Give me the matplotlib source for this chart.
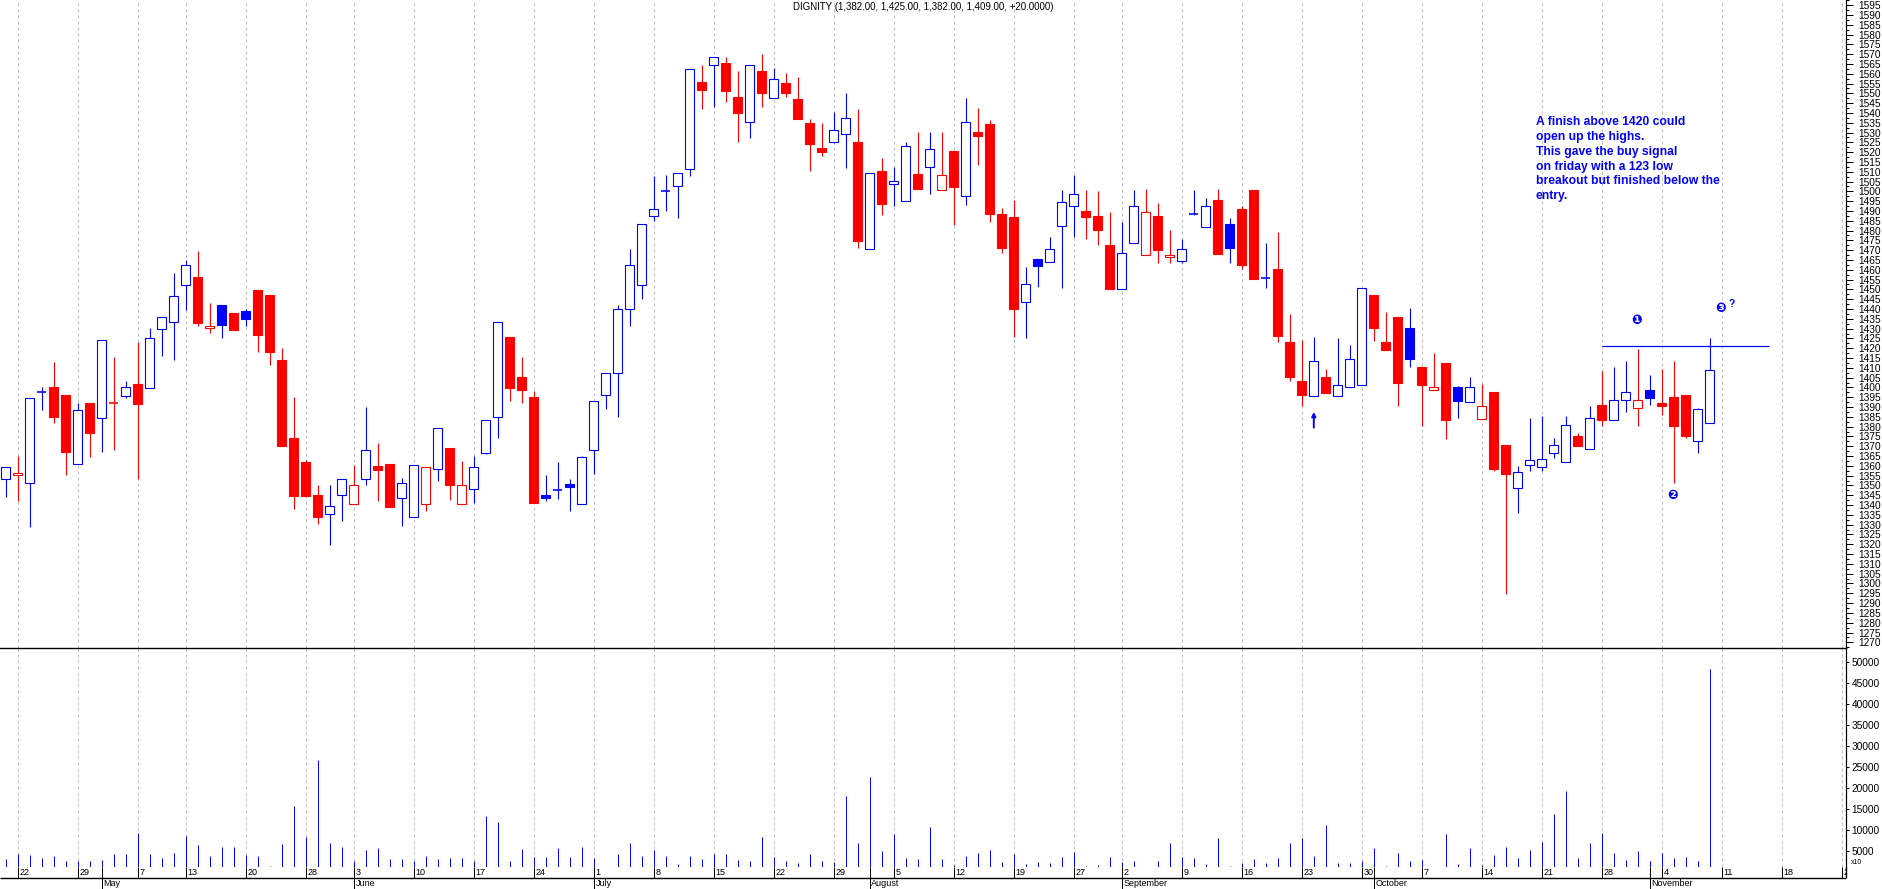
import matplotlib

matplotlib.use("Agg")
import matplotlib.pyplot as plt
from matplotlib import font_manager
from matplotlib.patches import Rectangle
from matplotlib.ticker import MultipleLocator, FixedLocator

# daily bars, Fri 19 Apr 2013 .. Fri 8 Nov 2013 (index 0..142)
OPEN = [1353.1, 1355.2, 1351.4, 1397.3, 1400.2, 1396.2, 1360.8, 1392.1, 1384.6, 1392.0,
        1395.5, 1401.8, 1399.9, 1430.0, 1433.2, 1452.1, 1456.3, 1430.2, 1442.0, 1438.0,
        1439.0, 1449.7, 1447.1, 1414.0, 1374.2, 1362.0, 1345.2, 1335.3, 1345.0, 1340.7,
        1353.2, 1359.8, 1361.0, 1343.8, 1333.8, 1340.4, 1358.6, 1369.1, 1340.4, 1348.0,
        1366.4, 1384.8, 1425.7, 1405.2, 1394.9, 1345.0, 1347.5, 1350.6, 1340.4, 1367.9,
        1396.0, 1407.2, 1439.8, 1452.1, 1487.3, 1500.3, 1502.6, 1511.2, 1555.8, 1564.3,
        1565.3, 1548.1, 1535.2, 1561.4, 1547.4, 1555.1, 1546.9, 1534.7, 1521.9, 1525.0,
        1529.1, 1525.2, 1470.4, 1510.4, 1503.6, 1494.9, 1508.7, 1512.3, 1500.5, 1520.6,
        1497.5, 1530.3, 1534.3, 1488.3, 1486.9, 1443.4, 1465.3, 1464.1, 1482.5, 1492.4,
        1490.0, 1487.4, 1472.6, 1450.4, 1473.5, 1467.4, 1487.4, 1466.4, 1464.3, 1488.6,
        1481.6, 1495.6, 1483.2, 1491.0, 1500.7, 1455.6, 1460.4, 1423.2, 1403.3, 1395.5,
        1405.3, 1395.5, 1400.4, 1401.2, 1447.1, 1423.2, 1435.9, 1430.1, 1410.4, 1398.5,
        1412.5, 1400.1, 1392.4, 1383.7, 1397.5, 1370.5, 1348.6, 1360.3, 1359.6, 1366.4,
        1362.2, 1375.2, 1368.4, 1391.0, 1383.6, 1393.4, 1389.4, 1398.7, 1391.9, 1395.1,
        1396.1, 1372.5, 1382.0]
HIGH = [1359.3, 1365.0, 1394.5, 1400.2, 1413.0, 1396.2, 1392.1, 1392.1, 1424.2, 1415.7,
        1403.5, 1423.2, 1430.3, 1435.8, 1458.4, 1465.0, 1469.6, 1443.1, 1442.0, 1438.0,
        1440.0, 1449.7, 1447.1, 1420.1, 1395.1, 1363.0, 1350.3, 1350.3, 1353.2, 1360.3,
        1390.0, 1371.7, 1361.0, 1353.8, 1360.3, 1359.3, 1379.2, 1369.1, 1362.5, 1365.1,
        1383.2, 1433.2, 1425.7, 1415.5, 1398.4, 1355.4, 1362.0, 1353.3, 1365.1, 1392.9,
        1407.2, 1441.9, 1470.6, 1483.2, 1507.8, 1508.2, 1509.2, 1562.2, 1564.4, 1568.3,
        1568.3, 1561.4, 1564.3, 1570.0, 1563.1, 1560.4, 1558.3, 1536.9, 1534.9, 1540.5,
        1550.2, 1542.0, 1509.2, 1516.8, 1512.3, 1525.2, 1530.3, 1530.3, 1530.3, 1520.6,
        1547.6, 1542.5, 1536.4, 1491.5, 1495.6, 1461.2, 1465.3, 1476.7, 1500.7, 1508.3,
        1500.7, 1500.2, 1489.5, 1484.4, 1500.7, 1501.2, 1494.0, 1480.3, 1475.7, 1500.7,
        1496.6, 1501.2, 1486.4, 1492.5, 1500.7, 1473.7, 1479.3, 1437.5, 1424.2, 1425.7,
        1409.4, 1425.2, 1421.6, 1450.6, 1447.1, 1438.5, 1435.9, 1440.5, 1410.4, 1417.6,
        1412.5, 1400.7, 1405.2, 1401.6, 1397.5, 1370.5, 1360.1, 1384.4, 1385.4, 1374.2,
        1385.4, 1376.6, 1390.5, 1408.4, 1410.4, 1413.5, 1419.6, 1406.4, 1409.4, 1413.5,
        1396.1, 1389.4, 1425.0]
LOW = [1344.3, 1342.3, 1328.7, 1388.5, 1382.0, 1355.4, 1360.8, 1364.5, 1367.1, 1368.1,
       1394.8, 1353.3, 1399.9, 1416.0, 1414.0, 1439.5, 1431.3, 1427.8, 1425.4, 1429.5,
       1431.3, 1418.1, 1411.5, 1370.3, 1338.2, 1344.5, 1330.5, 1319.8, 1332.1, 1340.7,
       1350.4, 1342.3, 1339.2, 1329.4, 1333.8, 1337.2, 1352.5, 1342.6, 1340.4, 1341.2,
       1365.9, 1374.4, 1393.3, 1392.2, 1340.9, 1342.3, 1343.3, 1337.2, 1340.4, 1356.0,
       1389.2, 1385.1, 1431.5, 1445.3, 1485.0, 1490.2, 1486.6, 1507.8, 1542.0, 1543.2,
       1545.7, 1525.3, 1527.4, 1543.2, 1547.4, 1548.3, 1537.1, 1510.6, 1518.2, 1524.5,
       1511.7, 1471.3, 1470.4, 1488.1, 1492.7, 1494.9, 1501.0, 1498.8, 1500.5, 1483.0,
       1493.2, 1513.6, 1484.5, 1468.7, 1425.7, 1425.4, 1451.0, 1464.1, 1450.9, 1476.9,
       1475.9, 1472.8, 1450.4, 1450.4, 1473.5, 1467.4, 1463.6, 1463.6, 1463.6, 1488.1,
       1481.6, 1468.2, 1463.6, 1460.6, 1455.5, 1450.9, 1423.3, 1403.5, 1390.7, 1395.5,
       1397.3, 1395.5, 1400.4, 1401.2, 1423.7, 1419.1, 1390.7, 1410.6, 1380.3, 1398.5,
       1373.9, 1384.6, 1392.4, 1383.7, 1357.6, 1294.5, 1336.2, 1357.6, 1357.6, 1363.9,
       1362.2, 1370.3, 1368.4, 1380.3, 1383.6, 1387.7, 1380.3, 1391.0, 1385.9, 1351.4,
       1374.4, 1366.7, 1382.0]
CLOSE = [1359.3, 1356.2, 1394.5, 1397.6, 1384.9, 1367.1, 1388.3, 1376.9, 1424.2, 1391.9,
         1400.2, 1391.7, 1425.0, 1435.8, 1446.5, 1462.3, 1433.0, 1431.2, 1432.0, 1429.5,
         1435.1, 1426.8, 1418.1, 1370.3, 1344.8, 1344.5, 1334.1, 1339.4, 1353.2, 1350.1,
         1367.9, 1358.1, 1339.2, 1351.1, 1360.3, 1359.3, 1379.2, 1350.3, 1350.0, 1359.3,
         1383.2, 1433.2, 1399.9, 1398.9, 1340.9, 1343.5, 1347.7, 1349.1, 1364.4, 1392.9,
         1407.2, 1439.8, 1462.3, 1483.2, 1490.8, 1500.5, 1509.2, 1562.2, 1551.9, 1568.3,
         1551.2, 1540.1, 1564.3, 1550.3, 1557.1, 1550.3, 1537.1, 1524.3, 1520.2, 1531.1,
         1537.2, 1474.9, 1509.2, 1493.7, 1505.1, 1523.0, 1501.0, 1521.4, 1508.2, 1502.4,
         1535.2, 1528.4, 1488.6, 1471.3, 1440.2, 1452.6, 1461.8, 1470.4, 1494.4, 1498.5,
         1487.1, 1480.5, 1450.4, 1468.4, 1492.4, 1489.3, 1470.3, 1467.4, 1470.4, 1488.8,
         1492.4, 1468.2, 1471.3, 1462.6, 1455.5, 1455.9, 1426.4, 1405.5, 1396.3, 1413.3,
         1397.3, 1401.1, 1414.3, 1450.6, 1430.5, 1419.1, 1402.3, 1414.7, 1401.4, 1400.4,
         1383.6, 1393.3, 1400.4, 1390.4, 1358.4, 1355.7, 1356.7, 1363.0, 1363.4, 1370.5,
         1380.7, 1370.3, 1384.3, 1383.6, 1393.4, 1397.5, 1393.4, 1394.8, 1390.7, 1380.5,
         1375.4, 1389.0, 1409.0]
VOLUME = [3090, 4350, 4040, 3330, 3800, 2610, 2610, 2610, 2850, 4350,
          4350, 9350, 4350, 3330, 4590, 8640, 6500, 3800, 5940, 5940,
          4120, 3800, 1430, 6740, 15760, 8400, 26700, 6970, 5940, 2690,
          5230, 5710, 3090, 3090, 2690, 3800, 3090, 3330, 3330, 2530,
          13400, 11900, 2690, 5470, 3570, 3570, 5710, 3570, 5940, 3330,
          1300, 4280, 6970, 3800, 5230, 3800, 1900, 3800, 3090, 4350,
          4350, 2850, 2690, 8400, 3570, 2690, 2220, 4280, 2690, 2450,
          18140, 6970, 22660, 5070, 9110, 3330, 3090, 10690, 3090, 1660,
          3800, 4510, 5230, 2380, 4280, 1900, 2380, 2140, 3570, 4750,
          1430, 1660, 3570, 2380, 2690, 1300, 2690, 6970, 3570, 3330,
          1900, 8080, 1430, 2220, 3090, 2220, 3330, 6970, 8080, 3800,
          11170, 2220, 2220, 2690, 5710, 1430, 4510, 2690, 2850, 1300,
          9030, 1900, 5710, 1660, 4040, 5940, 3330, 5230, 7210, 13790,
          19250, 3330, 6890, 9270, 4510, 2850, 4990, 2690, 4510, 3330,
          3570, 2690, 48250]

WEEK_IDX = [1, 6, 11, 15, 20, 25, 29, 34, 39, 44, 49, 54, 59, 64, 69, 74, 79, 84,
            89, 93, 98, 103, 108, 113, 118, 123, 128, 133, 138, 143, 148, 153]
WEEK_LABELS = ["22", "29", "7", "13", "20", "28", "3", "10", "17", "24", "1", "8",
               "15", "22", "29", "5", "12", "19", "27", "2", "9", "16", "23", "30",
               "7", "14", "21", "28", "4", "11", "18", "25"]
MONTH_IDX = [8, 29, 49, 72, 93, 114, 137]
MONTH_LABELS = ["May", "June", "July", "August", "September", "October", "November"]

TITLE = "DIGNITY (1,382.00, 1,425.00, 1,382.00, 1,409.00, +20.0000)"
NOTE = ("A finish above 1420 could\nopen up the highs.\nThis gave the buy signal\n"
        "on friday with a 123 low\nbreakout but finished below the\nentry.")
BREAKOUT_LEVEL = 1421
BREAKOUT_SPAN = (133, 146.9)
POINT_MARKS = [("\u2776", 135.9, 1434.2), ("\u2777", 138.9, 1344.8), ("\u2778", 142.9, 1440.2)]
ARROW_AT = (109, 1379.5, 1387.5)

BLUE = "#0000ff"
RED = "#ff0000"
W, H = 1883, 889
PX = 72 / 100  # one pixel in points

names = {f.name for f in font_manager.fontManager.ttflist}
NARROW = "Liberation Sans Narrow" if "Liberation Sans Narrow" in names else "Liberation Sans"
FAM = [NARROW, "DejaVu Sans"]

n = len(CLOSE)
XLIM = (-5.8 / 12, (1846 - 5.8) / 12)

fig = plt.figure(figsize=(W / 100, H / 100), dpi=100)
ax_v = fig.add_axes([0, 1 - 867 / H, 1846 / W, 219 / H])
ax_d = fig.add_axes([0, 0, 1846 / W, 22 / H])
ax_p = fig.add_axes([0, 1 - 648 / H, 1846 / W, 648 / H])
for ax in (ax_v, ax_d, ax_p):
    ax.patch.set_visible(False)

ax_p.set_xlim(*XLIM)
ax_p.set_ylim(1267.1, 1597.6)
ax_v.set_xlim(*XLIM)
ax_v.set_ylim(1190, 53245)
ax_d.set_xlim(*XLIM)
ax_d.set_ylim(22, 0)

# weekly grid
for ax in (ax_p, ax_v):
    lo, hi = ax.get_ylim()
    ax.vlines(WEEK_IDX, lo, hi, color="#c0c0c0", lw=PX, linestyles=(0, (3, 3)), zorder=0)

# candles
bw = 0.75
for i in range(n):
    o, h, l, c = OPEN[i], HIGH[i], LOW[i], CLOSE[i]
    prev = CLOSE[i - 1] if i > 0 else o
    col = BLUE if c >= prev else RED
    ax_p.vlines(i, l, h, color=col, lw=PX * 1.1, zorder=2)
    bot, top = min(o, c), max(o, c)
    if top - bot < 0.35:
        ax_p.hlines((o + c) / 2, i - bw / 2, i + bw / 2, color=col, lw=PX * 1.6, zorder=3)
        continue
    face = "white" if c >= o else col
    ax_p.add_patch(Rectangle((i - bw / 2, bot), bw, top - bot, facecolor=face,
                             edgecolor=col, lw=PX * 1.1, zorder=3))

# volume
ax_v.vlines(range(n), 0, VOLUME, color=BLUE, lw=PX, zorder=2)

# annotations
ax_p.hlines(BREAKOUT_LEVEL, *BREAKOUT_SPAN, color=BLUE, lw=PX * 1.2, zorder=4)
ax_p.text(127.5, 1538.2, NOTE, va="top", ha="left", color=BLUE, fontsize=8.7,
          fontweight="bold", family=FAM, linespacing=1.3)
for s, xi, yv in POINT_MARKS:
    ax_p.text(xi, yv, s, ha="center", va="center", color=BLUE, fontsize=9,
              family=["DejaVu Sans"], fontweight="bold")
ax_p.text(143.8, 1442.5, "?", ha="center", va="center", color=BLUE, fontsize=7.5,
          fontweight="bold", family=FAM)
ax_p.annotate("", xy=(ARROW_AT[0], ARROW_AT[2]), xytext=(ARROW_AT[0], ARROW_AT[1]),
              arrowprops=dict(arrowstyle="-|>", color=BLUE, lw=1.4, mutation_scale=6,
                              shrinkA=0, shrinkB=0))

fig.text(923 / W, 1 - 7 / H, TITLE, ha="center", va="center", fontsize=7, family=FAM)

# axes styling
for ax in (ax_p, ax_v, ax_d):
    for side in ("left", "top", "bottom"):
        ax.spines[side].set_visible(False)
    ax.spines["right"].set_linewidth(PX * 1.2)
    ax.tick_params(axis="x", bottom=False, labelbottom=False)
ax_p.spines["bottom"].set_visible(True)
ax_p.spines["bottom"].set_linewidth(1.0)
ax_d.spines["right"].set_visible(False)

ax_p.yaxis.tick_right()
ax_p.yaxis.set_major_locator(MultipleLocator(5))
ax_p.yaxis.set_minor_locator(MultipleLocator(2.5))
ax_p.tick_params(axis="y", which="major", direction="out", length=5, width=PX,
                 labelsize=7.3, pad=4)
ax_p.tick_params(axis="y", which="minor", direction="out", length=2.5, width=PX)
for t in ax_p.get_yticklabels():
    t.set_family(FAM)

ax_v.yaxis.tick_right()
ax_v.yaxis.set_major_locator(FixedLocator(range(5000, 50001, 5000)))
ax_v.tick_params(axis="y", direction="out", length=2, width=PX, labelsize=7.3, pad=2)
for t in ax_v.get_yticklabels():
    t.set_family(FAM)
fig.text(1851 / W, 1 - 862 / H, "x10", fontsize=5, va="center", ha="left", family=FAM)

# date strip
ax_d.set_yticks([])
ax_d.hlines(11, XLIM[0], XLIM[1], color="black", lw=PX * 1.4)
ax_d.vlines(XLIM[1], 0, 11, color="black", lw=PX * 1.4, clip_on=False)
ax_d.vlines(WEEK_IDX, 0, 11, color="black", lw=PX)
ax_d.vlines(MONTH_IDX, 0, 22, color="black", lw=PX)
for i, lab in zip(WEEK_IDX, WEEK_LABELS):
    ax_d.annotate(lab, (i, 5.5), xytext=(1.2, 0), textcoords="offset points",
                  va="center", ha="left", fontsize=6.5, family=FAM, clip_on=True)
for i, lab in zip(MONTH_IDX, MONTH_LABELS):
    ax_d.annotate(lab, (i, 16.5), xytext=(1.2, 0), textcoords="offset points",
                  va="center", ha="left", fontsize=6.5, family=FAM)

fig.savefig("out.png", dpi=100, facecolor="white")
